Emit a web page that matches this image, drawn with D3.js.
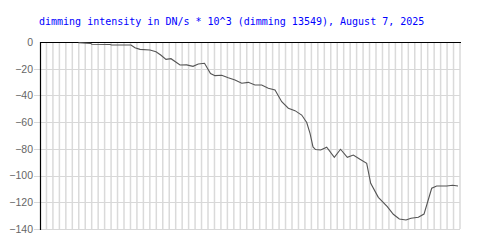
<!DOCTYPE html>
<html>
<head>
<meta charset="utf-8">
<script src="https://cdn.jsdelivr.net/npm/d3@7"></script>
<style>
  html, body { margin: 0; padding: 0; background: #fff; }
  svg { display: block; }
</style>
</head>
<body>
<svg id="chart" width="500" height="250"></svg>
<script>
const title = "dimming intensity in DN/s * 10^3 (dimming 13549), August 7, 2025";
const yTicks = [0, -20, -40, -60, -80, -100, -120, -140];
const xGridCount = 65;
const times = [5.96, 7.85, 8.0, 10.83, 11.1, 14.08, 14.7, 15.48, 17.02, 17.95, 18.68, 19.5, 20.27, 21.67, 22.7, 23.68, 24.5, 25.46, 26.39, 27.08, 28.12, 29.14, 30.18, 31.22, 32.24, 33.27, 34.31, 35.33, 36.37, 37.41, 38.43, 39.46, 40.5, 41.28, 41.79, 42.25, 42.64, 43.44, 44.37, 45.55, 46.51, 47.56, 48.49, 49.52, 50.56, 51.18, 52.36, 53.75, 54.68, 55.61, 56.64, 57.42, 58.55, 59.43, 60.0, 60.62, 61.39, 62.94, 63.87, 64.69];
const values = [-0.5, -1.0, -1.7, -1.9, -2.25, -2.25, -4.3, -5.5, -6.0, -7.3, -9.7, -13.0, -12.5, -17.2, -17.1, -18.2, -16.5, -15.9, -23.6, -25.2, -24.9, -26.7, -28.4, -30.9, -30.2, -32.2, -32.2, -34.7, -35.9, -44.7, -49.6, -51.4, -54.7, -60.3, -68.4, -78.6, -80.5, -80.9, -78.8, -86.3, -80.3, -86.3, -84.6, -87.8, -90.8, -105.8, -116.3, -123.3, -129.0, -132.5, -133.3, -132.0, -131.2, -128.8, -119.6, -109.5, -107.8, -107.8, -107.3, -107.8];

const svg = d3.select("#chart");
const L = 40, R = 460, T = 42, B = 229;
const x = d3.scaleLinear().domain([0, xGridCount]).range([L, R]);
const y = d3.scaleLinear().domain([-140, 0]).range([B, T]);

svg.append("text")
  .attr("x", 39).attr("y", 25)
  .attr("fill", "#0000ff")
  .attr("font-family", "DejaVu Sans Mono, monospace")
  .attr("font-size", "10px")
  .text(title);

// vertical grid
svg.append("g").selectAll("line")
  .data(d3.range(1, xGridCount + 1))
  .join("line")
  .attr("x1", d => x(d)).attr("x2", d => x(d))
  .attr("y1", T).attr("y2", B)
  .attr("stroke", "#dadada").attr("stroke-width", 1.5);

// horizontal grid with ticks extending left
svg.append("g").selectAll("line")
  .data(yTicks.filter(d => d !== 0))
  .join("line")
  .attr("x1", L - 6).attr("x2", R)
  .attr("y1", d => Math.round(y(d)) + 0.5).attr("y2", d => Math.round(y(d)) + 0.5)
  .attr("stroke", "#d8d8d8").attr("stroke-width", 1);

// axes lines
svg.append("line").attr("x1", L + 0.5).attr("x2", L + 0.5).attr("y1", T).attr("y2", B + 1)
  .attr("stroke", "#000").attr("stroke-width", 1.2);
svg.append("line").attr("x1", L).attr("x2", R + 1).attr("y1", T + 0.5).attr("y2", T + 0.5)
  .attr("stroke", "#000").attr("stroke-width", 1.2);

// y axis labels
const yAxis = d3.axisLeft(y).tickValues(yTicks).tickSize(0).tickPadding(7);
const ga = svg.append("g").attr("transform", `translate(${L},0)`).call(yAxis);
ga.select(".domain").remove();
ga.selectAll("text")
  .attr("fill", "#666")
  .attr("font-family", "Liberation Sans, Arial, sans-serif")
  .attr("font-size", "10.5px");

// data line
const line = d3.line().x((d, i) => x(times[i])).y(d => y(d));
svg.append("path")
  .datum(values)
  .attr("d", line)
  .attr("fill", "none")
  .attr("stroke", "#555")
  .attr("stroke-width", 1.1);
</script>
</body>
</html>
